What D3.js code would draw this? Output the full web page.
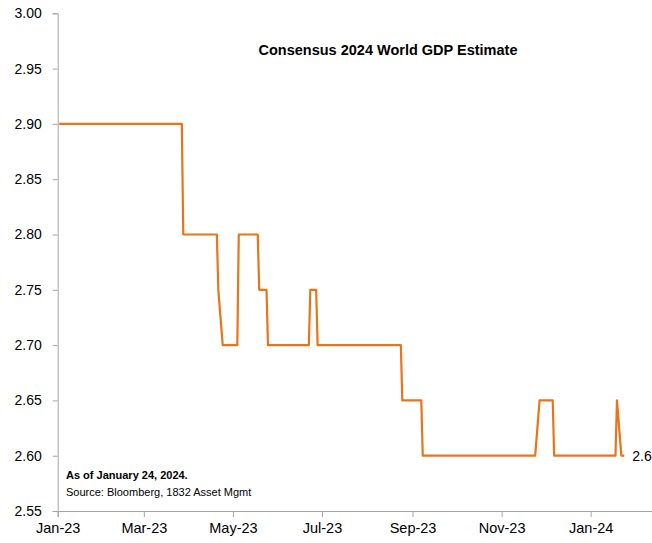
<!DOCTYPE html>
<html>
<head>
<meta charset="utf-8">
<script src="https://cdn.jsdelivr.net/npm/d3@7"></script>
<style>
	body { margin: 0; background: #fff; }
	svg text { font-family: 'Liberation Sans', Arial, sans-serif; }
</style>
</head>
<body>
<div id="chart"></div>
<script>
	'use strict';

	// change points of the consensus estimate (daily series, flat between points)
	var dates = ['2023-01-02', '2023-03-27', '2023-03-28', '2023-04-20', '2023-04-21', '2023-04-24',
		'2023-05-04', '2023-05-05', '2023-05-18', '2023-05-19', '2023-05-24', '2023-05-25',
		'2023-06-22', '2023-06-23', '2023-06-27', '2023-06-28', '2023-08-24', '2023-08-25',
		'2023-09-07', '2023-09-08', '2023-11-24', '2023-11-27', '2023-12-06', '2023-12-07',
		'2024-01-18', '2024-01-19', '2024-01-22', '2024-01-24'];
	var values = [2.90, 2.90, 2.80, 2.80, 2.75, 2.70,
		2.70, 2.80, 2.80, 2.75, 2.75, 2.70,
		2.70, 2.75, 2.75, 2.70, 2.70, 2.65,
		2.65, 2.60, 2.60, 2.65, 2.65, 2.60,
		2.60, 2.65, 2.60, 2.60];
	var yTicks = [2.55, 2.60, 2.65, 2.70, 2.75, 2.80, 2.85, 2.90, 2.95, 3.00];
	var xTicks = ['2023-01-01', '2023-03-01', '2023-05-01', '2023-07-01', '2023-09-01', '2023-11-01', '2024-01-01'];
	var title = 'Consensus 2024 World GDP Estimate';
	var noteBold = 'As of January 24, 2024.';
	var noteSource = 'Source: Bloomberg, 1832 Asset Mgmt';
	var lastLabel = '2.6';

	var width = 652, height = 543;
	var margin = {top: 13.3, right: 0, bottom: 32, left: 57.7};
	var parse = d3.utcParse('%Y-%m-%d');
	var fmt = d3.utcFormat('%b-%y');

	var data = dates.map(function (d, i) {
		return {x: parse(d), y: values[i]};
	});

	var svg = d3.select('#chart')
		.append('svg')
		.attr('width', width)
		.attr('height', height);

	var x = d3.scaleUtc()
		.domain([parse('2023-01-01'), parse('2024-02-12')])
		.range([margin.left, width - margin.right]);
	var y = d3.scaleLinear()
		.domain([2.55, 3.00])
		.range([height - margin.bottom, margin.top]);

	// x-axis
	var xAxis = svg.append('g')
		.attr('transform', 'translate(0,' + y(2.55) + ')')
		.call(d3.axisBottom(x)
			.tickValues(xTicks.map(parse))
			.tickFormat(fmt)
			.tickSizeOuter(0)
			.tickSize(6)
			.tickPadding(6));
	xAxis.select('.domain').attr('stroke', '#a6a6a6');
	xAxis.selectAll('.tick line').attr('stroke', '#a6a6a6');
	xAxis.selectAll('.tick text')
		.attr('fill', '#000')
		.style('font-size', '14.5px');

	// y-axis
	var yAxis = svg.append('g')
		.attr('transform', 'translate(' + margin.left + ',0)')
		.call(d3.axisLeft(y)
			.tickValues(yTicks)
			.tickFormat(d3.format('.2f'))
			.tickSizeOuter(0)
			.tickSize(5)
			.tickPadding(11));
	yAxis.select('.domain').attr('stroke', '#a6a6a6');
	yAxis.selectAll('.tick line').attr('stroke', '#a6a6a6');
	yAxis.selectAll('.tick text')
		.attr('fill', '#000')
		.style('font-size', '14px');

	var line = d3.line()
		.x(function (d) {
			return x(d.x);
		})
		.y(function (d) {
			return y(d.y);
		});

	svg.append('path')
		.datum(data)
		.attr('fill', 'none')
		.attr('stroke', '#e8751a')
		.attr('stroke-width', 2.2)
		.attr('stroke-linejoin', 'round')
		.attr('d', line);

	var last = data[data.length - 1];
	svg.append('text')
		.attr('x', x(last.x) + 8)
		.attr('y', y(last.y) + 5)
		.style('font-size', '14px')
		.text(lastLabel);

	svg.append('text')
		.attr('x', 388)
		.attr('y', 55)
		.attr('text-anchor', 'middle')
		.style('font-size', '14.5px')
		.style('font-weight', 'bold')
		.text(title);

	svg.append('text')
		.attr('x', 66)
		.attr('y', 479)
		.style('font-size', '11px')
		.style('font-weight', 'bold')
		.text(noteBold);
	svg.append('text')
		.attr('x', 66)
		.attr('y', 496)
		.style('font-size', '11px')
		.text(noteSource);
</script>
</body>
</html>
